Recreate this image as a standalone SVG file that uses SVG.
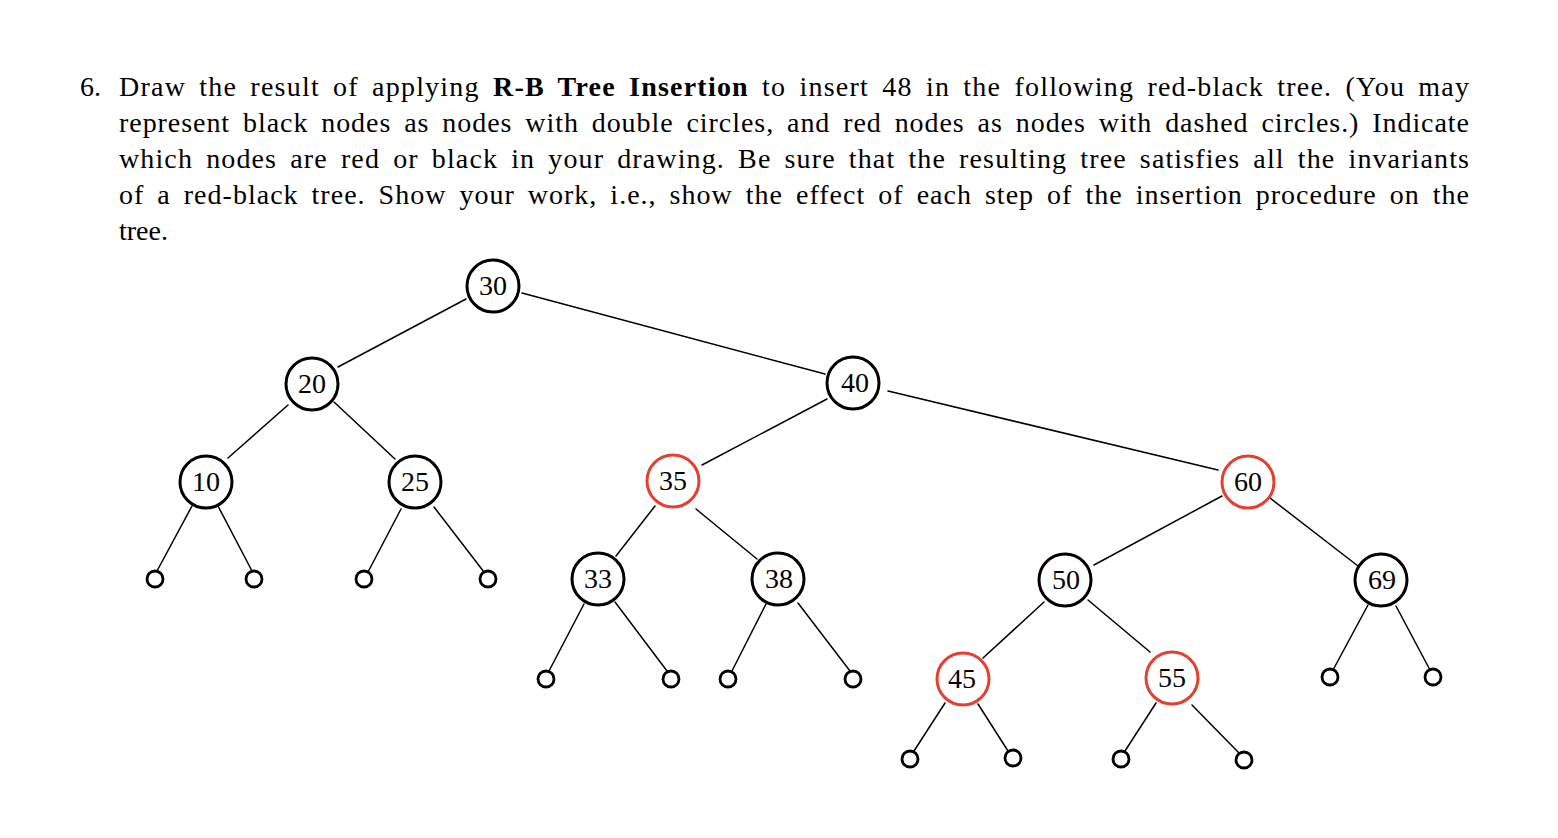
<svg xmlns="http://www.w3.org/2000/svg" width="1558" height="838" viewBox="0 0 1558 838">
<style>
.t{font-family:"Liberation Serif","Times New Roman",serif;font-size:28px;fill:#000;word-spacing:5px}
.b{font-weight:bold}
.n{fill:#fff;stroke:#000;stroke-width:3}
.r{fill:#fff;stroke:#e5402f;stroke-width:3}
.l{fill:#fff;stroke:#000;stroke-width:2.8}
.k{font-family:"Liberation Serif","Times New Roman",serif;font-size:28px;fill:#000;text-anchor:middle}
#edges line{stroke:#000;stroke-width:1.5;stroke-linecap:round}
</style>
<rect width="1558" height="838" fill="#fff"/>
<g id="question">
<text class="t" x="80" y="96">6.</text>
<text class="t" x="119" y="96" textLength="1350" lengthAdjust="spacing">Draw the result of applying <tspan class="b">R-B Tree Insertion</tspan> to insert 48 in the following red-black tree. (You may</text>
<text class="t" x="119" y="132" textLength="1350" lengthAdjust="spacing">represent black nodes as nodes with double circles, and red nodes as nodes with dashed circles.) Indicate</text>
<text class="t" x="119" y="168" textLength="1350" lengthAdjust="spacing">which nodes are red or black in your drawing. Be sure that the resulting tree satisfies all the invariants</text>
<text class="t" x="119" y="204" textLength="1350" lengthAdjust="spacing">of a red-black tree. Show your work, i.e., show the effect of each step of the insertion procedure on the</text>
<text class="t" x="119" y="240">tree.</text>
</g>
<g id="edges">
<line x1="466" y1="299" x2="338" y2="367"/>
<line x1="522" y1="293" x2="825" y2="374"/>
<line x1="288" y1="405" x2="228" y2="458"/>
<line x1="334" y1="402" x2="395" y2="459"/>
<line x1="192" y1="506" x2="157" y2="571"/>
<line x1="218" y1="506" x2="252" y2="571"/>
<line x1="401" y1="509" x2="368" y2="572"/>
<line x1="434" y1="507" x2="484" y2="572"/>
<line x1="827" y1="399" x2="702" y2="465"/>
<line x1="888" y1="391" x2="1218" y2="470"/>
<line x1="655" y1="506" x2="616" y2="556"/>
<line x1="696" y1="509" x2="757" y2="559"/>
<line x1="584" y1="604" x2="549" y2="671"/>
<line x1="615" y1="602" x2="667" y2="671"/>
<line x1="766" y1="604" x2="732" y2="671"/>
<line x1="798" y1="603" x2="850" y2="671"/>
<line x1="1222" y1="496" x2="1094" y2="565"/>
<line x1="1270" y1="498" x2="1358" y2="566"/>
<line x1="1044" y1="602" x2="983" y2="658"/>
<line x1="1088" y1="600" x2="1150" y2="652"/>
<line x1="945" y1="703" x2="914" y2="751"/>
<line x1="978" y1="704" x2="1008" y2="751"/>
<line x1="1156" y1="703" x2="1125" y2="751"/>
<line x1="1192" y1="705" x2="1239" y2="753"/>
<line x1="1368" y1="605" x2="1333" y2="670"/>
<line x1="1396" y1="606" x2="1430" y2="670"/>
</g>
<g id="n30"><circle class="n" cx="493" cy="286" r="26"/><text class="k" x="493" y="295">30</text></g>
<g id="n20"><circle class="n" cx="312" cy="384" r="26"/><text class="k" x="312" y="393">20</text></g>
<g id="n10"><circle class="n" cx="206" cy="482" r="26"/><text class="k" x="206" y="491">10</text></g>
<g id="n25"><circle class="n" cx="415" cy="482" r="26"/><text class="k" x="415" y="491">25</text></g>
<g id="n40"><circle class="n" cx="853" cy="383" r="26"/><text class="k" x="855" y="392">40</text></g>
<g id="n35"><circle class="r" cx="673" cy="481" r="26"/><text class="k" x="673" y="490">35</text></g>
<g id="n60"><circle class="r" cx="1248" cy="482" r="26"/><text class="k" x="1248" y="491">60</text></g>
<g id="n33"><circle class="n" cx="598" cy="579" r="26"/><text class="k" x="598" y="588">33</text></g>
<g id="n38"><circle class="n" cx="778" cy="579" r="26"/><text class="k" x="779" y="588">38</text></g>
<g id="n50"><circle class="n" cx="1065" cy="580" r="26"/><text class="k" x="1066" y="589">50</text></g>
<g id="n69"><circle class="n" cx="1381" cy="580" r="26"/><text class="k" x="1382" y="589">69</text></g>
<g id="n45"><circle class="r" cx="963" cy="679" r="26"/><text class="k" x="962" y="688">45</text></g>
<g id="n55"><circle class="r" cx="1172" cy="678" r="26"/><text class="k" x="1172" y="687">55</text></g>
<g id="leaves">
<circle class="l" cx="155" cy="579" r="8"/>
<circle class="l" cx="254" cy="579" r="8"/>
<circle class="l" cx="364" cy="579" r="8"/>
<circle class="l" cx="488" cy="579" r="8"/>
<circle class="l" cx="546" cy="679" r="8"/>
<circle class="l" cx="671" cy="679" r="8"/>
<circle class="l" cx="728" cy="679" r="8"/>
<circle class="l" cx="853" cy="679" r="8"/>
<circle class="l" cx="910" cy="759" r="8"/>
<circle class="l" cx="1013" cy="758" r="8"/>
<circle class="l" cx="1121" cy="759" r="8"/>
<circle class="l" cx="1244" cy="760" r="8"/>
<circle class="l" cx="1330" cy="677" r="8"/>
<circle class="l" cx="1433" cy="677" r="8"/>
</g>
</svg>
